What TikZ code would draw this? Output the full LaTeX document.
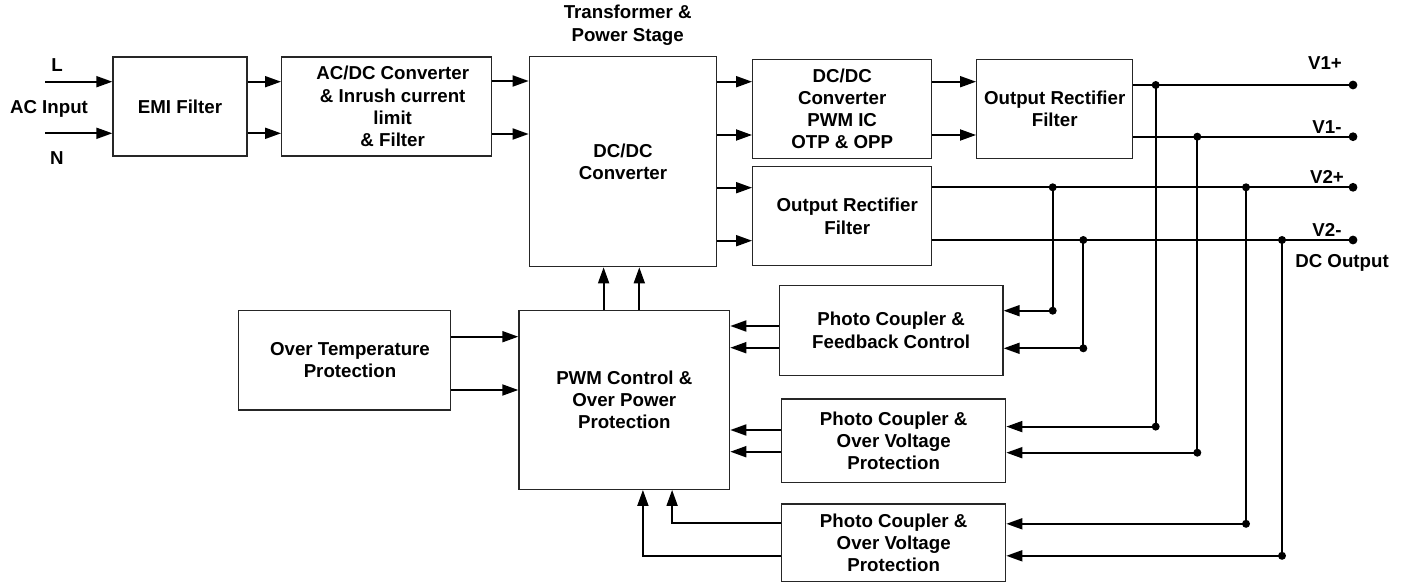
\documentclass[tikz,border=0pt]{standalone}
\usepackage{fontspec}
\setmainfont{Liberation Sans}
\usetikzlibrary{arrows.meta,calc}
\begin{document}
\begin{tikzpicture}[x=1pt,y=-1pt,
  txt/.style={font=\fontsize{18.7}{22.3}\selectfont\bfseries, align=center, inner sep=0pt},
  box/.style={txt, draw=black!85, line width=1.3pt},
  conn/.style={line width=1.8pt},
  arr/.style={conn, -{Triangle[length=16pt,width=11pt]}},
  dotn/.style={circle, fill=black, inner sep=0pt, minimum size=8.8pt}]
\useasboundingbox (0,0) rectangle (1407,585);
% boxes
\node[box, minimum width=134pt, minimum height=99pt] (emi) at (180,106.5) {EMI Filter};
\node[box, minimum width=210pt, minimum height=99pt] (acdc) at (386.7,106.5) {\hspace*{12pt}AC/DC Converter\\\hspace*{12pt}\& Inrush current\\\hspace*{12pt}limit\\\hspace*{12pt}\& Filter};
\node[box, minimum width=187.4pt, minimum height=210pt] (dcdc) at (623,161.7) {DC/DC\\Converter};
\node[box, minimum width=179pt, minimum height=99pt] (pwmic) at (842.2,108.8) {DC/DC\\Converter\\PWM IC\\OTP \& OPP};
\node[box, minimum width=156pt, minimum height=99pt] (orfa) at (1054.7,108.8) {Output Rectifier\\Filter};
\node[box, minimum width=179pt, minimum height=99pt] (orfb) at (842.2,216.2) {\hspace*{10pt}Output Rectifier\\\hspace*{10pt}Filter};
\node[box, minimum width=212.5pt, minimum height=99.3pt] (otp) at (344.5,360.3) {\hspace*{11pt}Over Temperature\\\hspace*{11pt}Protection};
\node[box, minimum width=210.7pt, minimum height=178.6pt] (pwm) at (624.3,400) {PWM Control \&\\Over Power\\Protection};
\node[box, minimum width=223.6pt, minimum height=90pt] (pcfc) at (891.2,330.3) {Photo Coupler \&\\Feedback Control};
\node[box, minimum width=224pt, minimum height=83.3pt] (pcova) at (893.7,440.7) {Photo Coupler \&\\Over Voltage\\Protection};
\node[box, minimum width=224pt, minimum height=77.7pt] (pcovb) at (893.7,542.8) {Photo Coupler \&\\Over Voltage\\Protection};
% labels
\node[txt] (ltop) at (627.7,25.3) {Transformer \&\\Power Stage};
\node[txt] (lL) at (57,65) {L};
\node[txt] (lN) at (57,158) {N};
\node[txt] (lac) at (49,109) {AC Input};
\node[txt] (lv1p) at (1325,63.3) {V1+};
\node[txt] (lv1m) at (1327,127) {V1-};
\node[txt] (lv2p) at (1327,176.7) {V2+};
\node[txt] (lv2m) at (1327,230) {V2-};
\node[txt] (ldc) at (1342,262.7) {DC Output};
% input
\coordinate (Lin) at (45,81.7);
\coordinate (Nin) at (45,133.3);
\draw[arr] (Lin) -- (emi.west |- Lin);
\draw[arr] (Nin) -- (emi.west |- Nin);
\draw[arr] (emi.east |- Lin) -- (acdc.west |- Lin);
\draw[arr] (emi.east |- Nin) -- (acdc.west |- Nin);
\draw[arr] (acdc.east |- {(0,81)}) -- (dcdc.west |- {(0,81)});
\draw[arr] (acdc.east |- {(0,134)}) -- (dcdc.west |- {(0,134)});
% dcdc outputs
\draw[arr] (dcdc.east |- {(0,81.7)}) -- (pwmic.west |- {(0,81.7)});
\draw[arr] (dcdc.east |- {(0,135)}) -- (pwmic.west |- {(0,135)});
\draw[arr] (dcdc.east |- {(0,187.7)}) -- (orfb.west |- {(0,187.7)});
\draw[arr] (dcdc.east |- {(0,240.7)}) -- (orfb.west |- {(0,240.7)});
\draw[arr] (pwmic.east |- {(0,81.7)}) -- (orfa.west |- {(0,81.7)});
\draw[arr] (pwmic.east |- {(0,135)}) -- (orfa.west |- {(0,135)});
% output rails
\node[dotn] (v1p) at (1353,85) {};
\node[dotn] (v1m) at (1353,136.7) {};
\node[dotn] (v2p) at (1353,187.3) {};
\node[dotn] (v2m) at (1353,240) {};
\draw[conn] (orfa.east |- v1p) -- (v1p.center);
\draw[conn] (orfa.east |- v1m) -- (v1m.center);
\draw[conn] (orfb.east |- v2p) -- (v2p.center);
\draw[conn] (orfb.east |- v2m) -- (v2m.center);
% junctions on rails
\node[dotn, minimum size=8pt] (ja) at (1155.7,85) {};
\node[dotn, minimum size=8pt] (jb) at (1197.3,136.7) {};
\node[dotn, minimum size=8pt] (jc) at (1052.7,187.3) {};
\node[dotn, minimum size=8pt] (jd) at (1246,187.3) {};
\node[dotn, minimum size=8pt] (je) at (1083.3,240) {};
\node[dotn, minimum size=8pt] (jf) at (1282,240) {};
% corners
\node[dotn, minimum size=8pt] (ca) at (1052.7,310.7) {};
\node[dotn, minimum size=8pt] (cb) at (1083.3,348.3) {};
\node[dotn, minimum size=8pt] (cc) at (1155.7,426.6) {};
\node[dotn, minimum size=8pt] (cd) at (1197.3,452.7) {};
\node[dotn, minimum size=8pt] (ce) at (1246,523.8) {};
\node[dotn, minimum size=8pt] (cf) at (1282,555.8) {};
\draw[conn] (jc.center) -- (ca.center);
\draw[conn] (je.center) -- (cb.center);
\draw[conn] (ja.center) -- (cc.center);
\draw[conn] (jb.center) -- (cd.center);
\draw[conn] (jd.center) -- (ce.center);
\draw[conn] (jf.center) -- (cf.center);
\draw[arr] (ca.center) -- (pcfc.east |- ca);
\draw[arr] (cb.center) -- (pcfc.east |- cb);
\draw[arr] (cc.center) -- (pcova.east |- cc);
\draw[arr] (cd.center) -- (pcova.east |- cd);
\draw[arr] (ce.center) -- (pcovb.east |- ce);
\draw[arr] (cf.center) -- (pcovb.east |- cf);
% feedback into PWM
\draw[arr] (pcfc.west |- {(0,326)}) -- (pwm.east |- {(0,326)});
\draw[arr] (pcfc.west |- {(0,347.7)}) -- (pwm.east |- {(0,347.7)});
\draw[arr] (pcova.west |- {(0,430)}) -- (pwm.east |- {(0,430)});
\draw[arr] (pcova.west |- {(0,451.7)}) -- (pwm.east |- {(0,451.7)});
\draw[arr] (pcovb.west |- {(0,522.8)}) -| (pwm.south -| {(672.1,0)});
\draw[arr] (pcovb.west |- {(0,555.8)}) -| (pwm.south -| {(642.9,0)});
% OTP into PWM
\draw[arr] (otp.east |- {(0,336.7)}) -- (pwm.west |- {(0,336.7)});
\draw[arr] (otp.east |- {(0,390)}) -- (pwm.west |- {(0,390)});
% PWM up to DC/DC
\draw[arr] (pwm.north -| {(603.6,0)}) -- (dcdc.south -| {(603.6,0)});
\draw[arr] (pwm.north -| {(639.3,0)}) -- (dcdc.south -| {(639.3,0)});
\end{tikzpicture}
\end{document}
